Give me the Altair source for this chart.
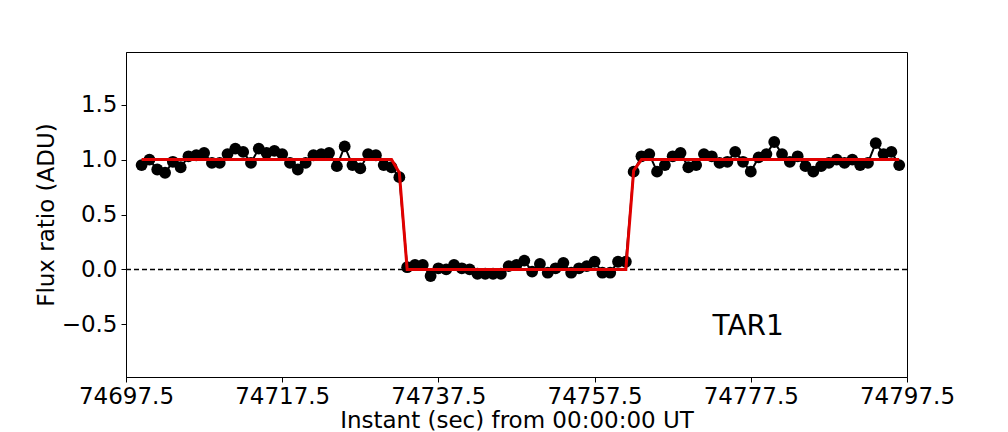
import altair as alt
import pandas as pd

t0 = 74699.5
flux = [
    0.95, 1.00, 0.91, 0.88, 0.98, 0.93, 1.03, 1.04, 1.06, 0.97,
    0.97, 1.05, 1.10, 1.07, 0.97, 1.10, 1.06, 1.08, 1.05, 0.97,
    0.91, 0.97, 1.04, 1.05, 1.06, 0.94, 1.12, 0.95, 0.92, 1.05,
    1.04, 0.95, 0.93, 0.84,
    0.02, 0.04, 0.04, -0.06, 0.01, 0.00, 0.04, 0.01, 0.00, -0.04,
    -0.04, -0.04, -0.04, 0.03, 0.04, 0.08, -0.02, 0.05, -0.03, 0.01,
    0.06, -0.03, 0.01, 0.03, 0.07, -0.03, -0.03, 0.07, 0.07,
    0.89, 1.03, 1.05, 0.89, 0.95, 1.03, 1.06, 0.93, 0.95, 1.05,
    1.03, 0.97, 0.98, 1.07, 0.98, 0.89, 1.02, 1.05, 1.16, 1.05,
    0.98, 1.03, 0.94, 0.89, 0.94, 0.97, 1.00, 0.97, 1.00, 0.95,
    0.97, 1.15, 1.05, 1.07, 0.95,
]
times = [t0 + i for i in range(len(flux))]
model = [1.0] * 33 + [0.88] + [0.0] * 29 + [0.9] + [1.0] * 34

df = pd.DataFrame({"t": times, "flux": flux, "model": model})

xscale = alt.Scale(domain=[74697.5, 74797.5], nice=False, zero=False)
yscale = alt.Scale(domain=[-0.98, 1.98], nice=False, zero=False)

xaxis = alt.Axis(values=[74697.5, 74717.5, 74737.5, 74757.5, 74777.5, 74797.5],
                 format=".1f", title="Instant (sec) from 00:00:00 UT",
                 grid=False, labelFontSize=23, titleFontSize=23,
                 labelColor="black", titleColor="black", tickColor="black",
                 domainColor="black", tickSize=5, labelPadding=3,
                 titleFontWeight="normal", titlePadding=1, labelFlush=False)
yaxis = alt.Axis(values=[-0.5, 0.0, 0.5, 1.0, 1.5], format=".1f",
                 title="Flux ratio (ADU)", grid=False, labelFontSize=23,
                 titleFontSize=23, labelColor="black", titleColor="black",
                 tickColor="black", domainColor="black", tickSize=5,
                 labelPadding=4, titleFontWeight="normal", titlePadding=3)

base = alt.Chart(df)

zero = alt.Chart(pd.DataFrame({"y": [0.0]})).mark_rule(
    color="black", strokeDash=[5, 3], strokeWidth=1.5
).encode(y=alt.Y("y:Q", scale=yscale, axis=yaxis))

dline = base.mark_line(color="black", strokeWidth=2).encode(
    x=alt.X("t:Q", scale=xscale, axis=xaxis),
    y=alt.Y("flux:Q", scale=yscale, axis=yaxis),
)
dpts = base.mark_circle(color="black", size=140, opacity=1).encode(
    x=alt.X("t:Q", scale=xscale, axis=xaxis),
    y=alt.Y("flux:Q", scale=yscale, axis=yaxis),
)
mline = base.mark_line(color="#e00000", strokeWidth=3).encode(
    x=alt.X("t:Q", scale=xscale, axis=xaxis),
    y=alt.Y("model:Q", scale=yscale, axis=yaxis),
)

label = alt.Chart(pd.DataFrame({"x": [74772.6], "y": [-0.60], "txt": ["TAR1"]})).mark_text(
    align="left", baseline="alphabetic", fontSize=28, color="black", font="DejaVu Sans"
).encode(x=alt.X("x:Q", scale=xscale, axis=xaxis), y=alt.Y("y:Q", scale=yscale, axis=yaxis), text="txt:N")

chart = alt.layer(zero, dline, dpts, mline, label).properties(
    width=781, height=325,
    autosize=alt.AutoSizeParams(type="none"),
    padding={"left": 118, "top": 44, "right": 93, "bottom": 54},
).configure(font="DejaVu Sans").configure_view(
    stroke="black", strokeWidth=1
).configure_axis(domainWidth=1, tickWidth=1)

chart.save("out.html", embed_options={"renderer": "svg", "actions": False})
